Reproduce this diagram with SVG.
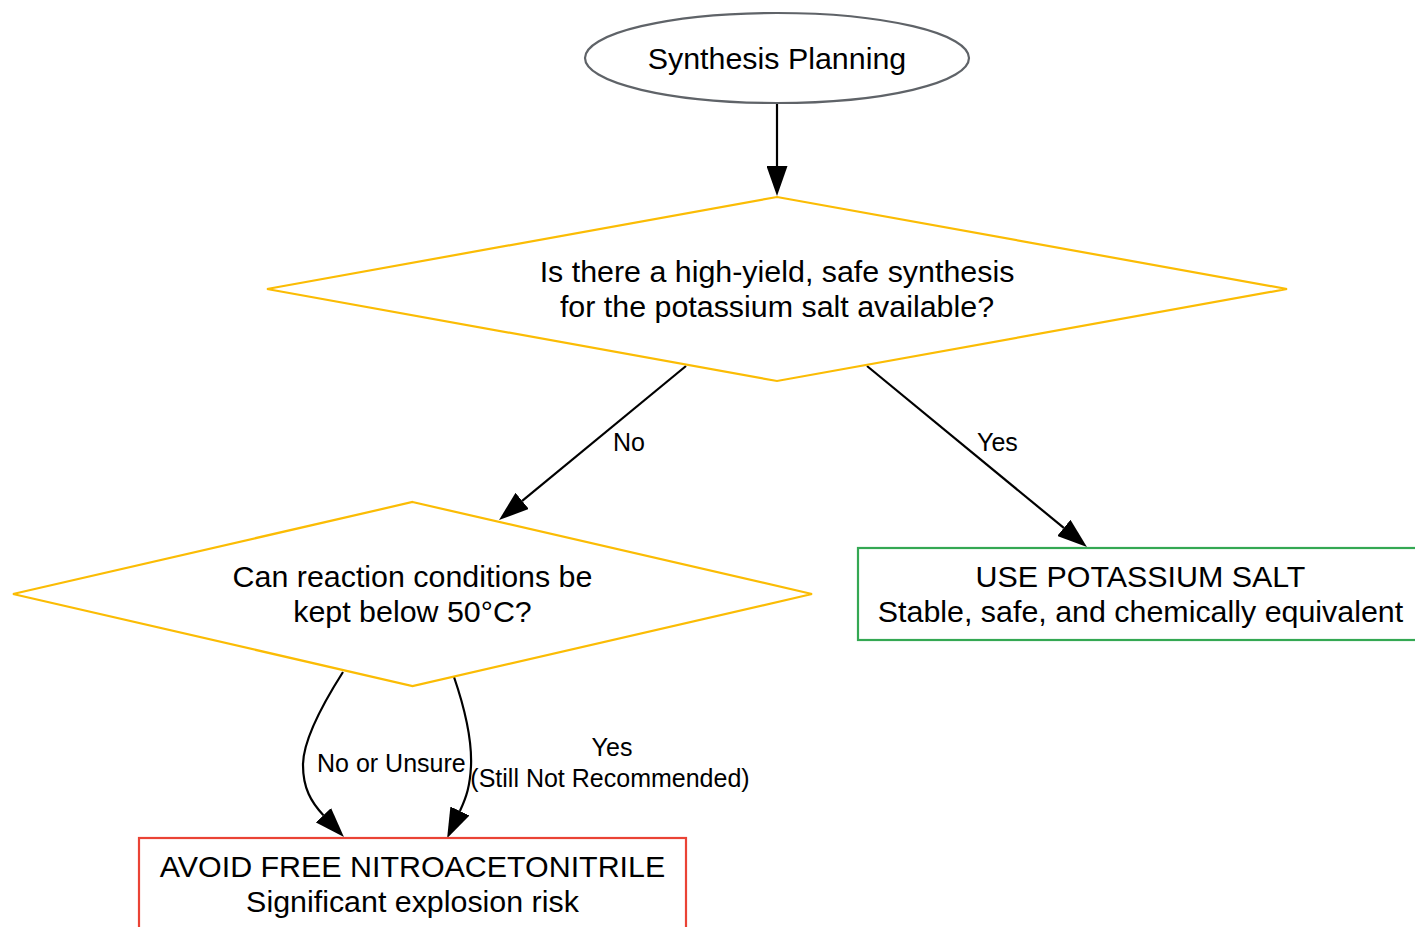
<svg xmlns="http://www.w3.org/2000/svg" width="1415" height="927" viewBox="0 0 1415 927">
<style>
  .nt { font-family: "Liberation Sans", Arial, sans-serif; font-size: 30.4px; fill: #000; text-anchor: middle; }
  .et { font-family: "Liberation Sans", Arial, sans-serif; font-size: 25px; fill: #000; }
  .edge { fill: none; stroke: #000; stroke-width: 2.2; }
  .dia { fill: #fff; stroke: #FBBC04; stroke-width: 2.2; }
</style>
<defs>
  <marker id="ah" markerUnits="userSpaceOnUse" markerWidth="30" markerHeight="21" viewBox="0 0 30 21" refX="0" refY="10.5" orient="auto">
    <path d="M0,0 L30,10.5 L0,21 z" fill="#000"/>
  </marker>
</defs>
<rect width="1415" height="927" fill="#fff"/>
<g id="connectors">
  <path class="edge" d="M777,103 L777,166" marker-end="url(#ah)"/>
  <path class="edge" d="M686,366 L522.2,500.9" marker-end="url(#ah)"/>
  <path class="edge" d="M867,366 L1063.8,527.9" marker-end="url(#ah)"/>
  <path class="edge" d="M343,672 C322,705 303,740 303,765 C303,788 311,802 323.4,815.2" marker-end="url(#ah)"/>
  <path class="edge" d="M454,677 C466,712 472,742 471,766 C470,786 466.5,797 459.9,811" marker-end="url(#ah)"/>
  <text class="et" x="613" y="451">No</text>
  <text class="et" x="977" y="451">Yes</text>
  <text class="et" x="317" y="772">No or Unsure</text>
  <text class="et" x="612" y="756" text-anchor="middle">Yes</text>
  <text class="et" x="610" y="787" text-anchor="middle">(Still Not Recommended)</text>
</g>
<g id="start">
  <ellipse cx="777" cy="58" rx="192" ry="45" fill="#fff" stroke="#5F6368" stroke-width="2.2"/>
  <text class="nt" x="777" y="69">Synthesis Planning</text>
</g>
<g id="q1">
  <polygon class="dia" points="777,197 1287,289 777,381 267,289"/>
  <text class="nt" x="777" y="282">Is there a high-yield, safe synthesis</text>
  <text class="nt" x="777" y="317">for the potassium salt available?</text>
</g>
<g id="q2">
  <polygon class="dia" points="412.5,502 812,594 412.5,686 13,594"/>
  <text class="nt" x="412.5" y="587">Can reaction conditions be</text>
  <text class="nt" x="412.5" y="622">kept below 50°C?</text>
</g>
<g id="use_salt">
  <rect x="858" y="548" width="565" height="92" fill="#fff" stroke="#34A853" stroke-width="2.2"/>
  <text class="nt" x="1140.5" y="587">USE POTASSIUM SALT</text>
  <text class="nt" x="1140.5" y="622">Stable, safe, and chemically equivalent</text>
</g>
<g id="avoid">
  <rect x="139" y="838" width="547" height="92" fill="#fff" stroke="#EA4335" stroke-width="2.2"/>
  <text class="nt" x="412.5" y="877">AVOID FREE NITROACETONITRILE</text>
  <text class="nt" x="412.5" y="912">Significant explosion risk</text>
</g>
</svg>
